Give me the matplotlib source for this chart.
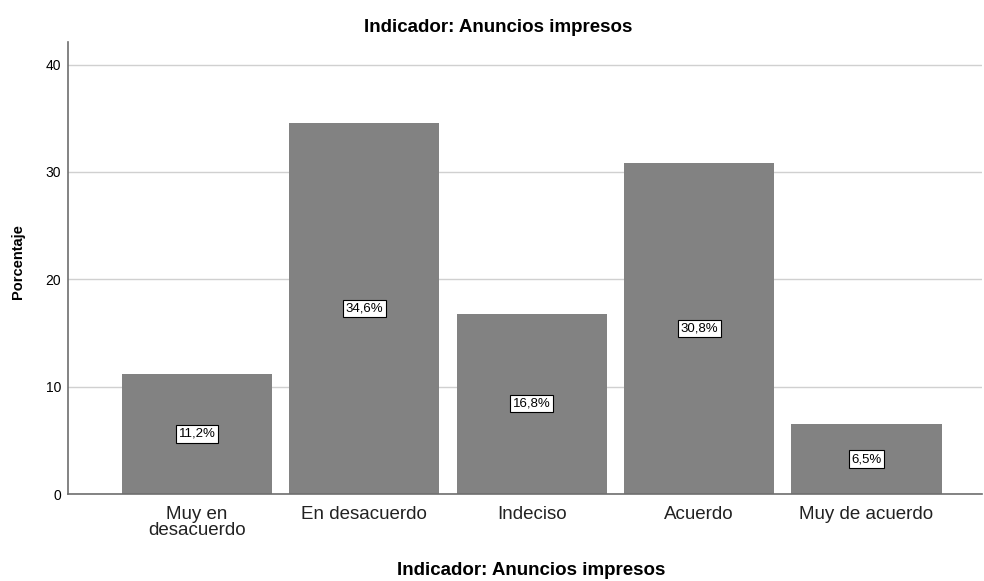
import matplotlib
matplotlib.use("Agg")
import matplotlib.pyplot as plt

categories = ["Muy en\ndesacuerdo", "En desacuerdo", "Indeciso", "Acuerdo", "Muy de acuerdo"]
values = [11.2, 34.6, 16.8, 30.8, 6.5]
labels = ["11,2%", "34,6%", "16,8%", "30,8%", "6,5%"]
yticks = [0, 10, 20, 30, 40]

plt.rcParams['font.family'] = ['Liberation Sans', 'DejaVu Sans']

fig = plt.figure(figsize=(9.84, 5.81), dpi=100)
ax = fig.add_axes([0.0691, 0.1497, 0.9289, 0.778])

x = list(range(len(categories)))
ax.bar(x, values, width=0.897, color="#828282", zorder=2)
for xi, v, lab in zip(x, values, labels):
    ax.text(xi, v / 2, lab, ha="center", va="center", fontsize=9.5, zorder=3,
            bbox=dict(boxstyle="square,pad=0.2", fc="white", ec="black", lw=0.8))

ax.set_xlim(-0.771, 4.69)
ax.set_ylim(0, 42.1)
ax.set_yticks(yticks)
ax.set_yticklabels([str(t) for t in yticks], fontsize=10)
ax.set_xticks(x)
ax.set_xticklabels(categories, fontsize=13.5, linespacing=0.95, color="#222222")
ax.tick_params(axis="x", length=0, pad=8.5)
ax.tick_params(axis="y", length=0, pad=5)
ax.yaxis.grid(True, color="#d0d0d0", lw=1, zorder=0)
ax.set_axisbelow(True)
for s in ["top", "right"]:
    ax.spines[s].set_visible(False)
for s in ["left", "bottom"]:
    ax.spines[s].set_color("#6e6e6e")
    ax.spines[s].set_linewidth(1.2)

fig.text(18 / 984, 1 - 262 / 581, "Porcentaje", rotation=90, ha="center", va="center",
         fontsize=10.5, fontweight="bold")
fig.text(498 / 984, 1 - 32 / 581, "Indicador: Anuncios impresos", ha="center", va="baseline",
         fontsize=13.5, fontweight="bold")
fig.text(531 / 984, 1 - 575 / 581, "Indicador: Anuncios impresos", ha="center", va="baseline",
         fontsize=13.5, fontweight="bold")

fig.savefig("out.png", dpi=100)
